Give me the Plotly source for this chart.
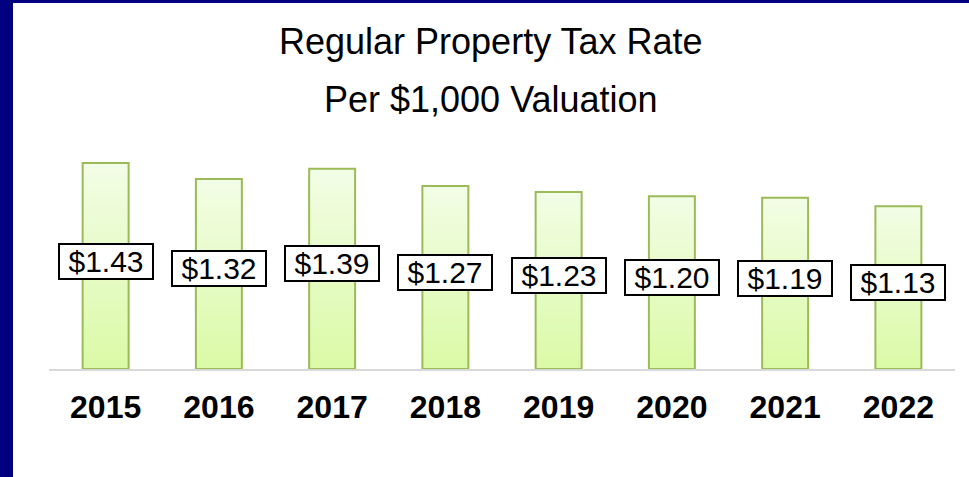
import plotly.graph_objects as go

# -----------------------------------------------------------------------------
# Data
# -----------------------------------------------------------------------------
years = ["2015", "2016", "2017", "2018", "2019", "2020", "2021", "2022"]
rates = [1.43, 1.32, 1.39, 1.27, 1.23, 1.20, 1.19, 1.13]
rate_labels = ["$1.43", "$1.32", "$1.39", "$1.27", "$1.23", "$1.20", "$1.19", "$1.13"]
title_lines = ["Regular Property Tax Rate", "Per $1,000 Valuation"]

# -----------------------------------------------------------------------------
# Layout constants
# -----------------------------------------------------------------------------
W, H = 969, 477
ML, MR, MT, MB = 49, 14, 100, 108
PW, PH = W - ML - MR, H - MT - MB
Y_MAX = PH / 144.0
FONT = "Arial, Liberation Sans, sans-serif"
NAVY = "#000080"


def px_x(px):
    return (px - ML) / PW


def px_y(py):
    return (H - MB - py) / PH


def mix(c1, c2, t):
    a = [int(c1[i:i + 2], 16) for i in (1, 3, 5)]
    b = [int(c2[i:i + 2], 16) for i in (1, 3, 5)]
    return "#%02x%02x%02x" % tuple(round(a[k] + (b[k] - a[k]) * t) for k in range(3))


fig = go.Figure()

# gradient fill: overlapping slices of each bar, bottom colour to top colour
n_steps = 24
bottom_col, top_col = "#dbfaa6", "#f2fde6"
for i in range(n_steps):
    top = min(i + 2, n_steps)
    fig.add_trace(go.Bar(
        x=years,
        y=[r * (top - i) / n_steps for r in rates],
        base=[r * i / n_steps for r in rates],
        marker=dict(color=mix(bottom_col, top_col, (i + 0.5) / n_steps), line=dict(width=0)),
        hoverinfo="skip",
        showlegend=False,
    ))

# outline
fig.add_trace(go.Bar(
    x=years,
    y=rates,
    marker=dict(color="rgba(0,0,0,0)", line=dict(color="#9bbb59", width=2)),
    showlegend=False,
))

# boxed value labels (category index, since "2015" would be read as a position)
for idx, (r, lab) in enumerate(zip(rates, rate_labels)):
    fig.add_annotation(
        x=idx, y=r / 2 + 0.035, text=lab, showarrow=False,
        font=dict(family=FONT, size=30, color="black"),
        bgcolor="white", bordercolor="black", borderwidth=2, borderpad=1,
        width=90, height=31, yanchor="middle",
    )

# title (two lines placed separately)
for line, py in zip(title_lines, [42, 99]):
    fig.add_annotation(
        x=0.5, xref="paper", y=px_y(py), yref="paper", xshift=(491 - (ML + PW / 2)),
        text=line, showarrow=False, yanchor="middle",
        font=dict(family=FONT, size=36, color="black"),
    )

# navy frame on left and top
fig.add_shape(type="rect", xref="paper", yref="paper",
              x0=px_x(0), x1=px_x(13), y0=px_y(H), y1=px_y(0),
              fillcolor=NAVY, line=dict(width=0), layer="above")
fig.add_shape(type="rect", xref="paper", yref="paper",
              x0=px_x(0), x1=px_x(W), y0=px_y(3), y1=px_y(0),
              fillcolor=NAVY, line=dict(width=0), layer="above")

fig.update_layout(
    width=W, height=H,
    margin=dict(l=ML, r=MR, t=MT, b=MB),
    barmode="overlay",
    bargap=0.594,
    plot_bgcolor="white",
    paper_bgcolor="white",
    showlegend=False,
)

fig.update_xaxes(
    type="category",
    categoryorder="array", categoryarray=years,
    range=[-0.5, len(years) - 0.5], autorange=False,
    showline=True, linecolor="#d9d9d9", linewidth=2,
    showgrid=False, ticks="", ticklabelstandoff=9,
    tickfont=dict(family=FONT, size=32, color="black", weight="bold"),
)
fig.update_yaxes(range=[0, Y_MAX], visible=False, showgrid=False, zeroline=False)

fig.write_html(
    "out.html",
    config={"displayModeBar": False},
    post_script="document.body.style.margin='0';",
)
